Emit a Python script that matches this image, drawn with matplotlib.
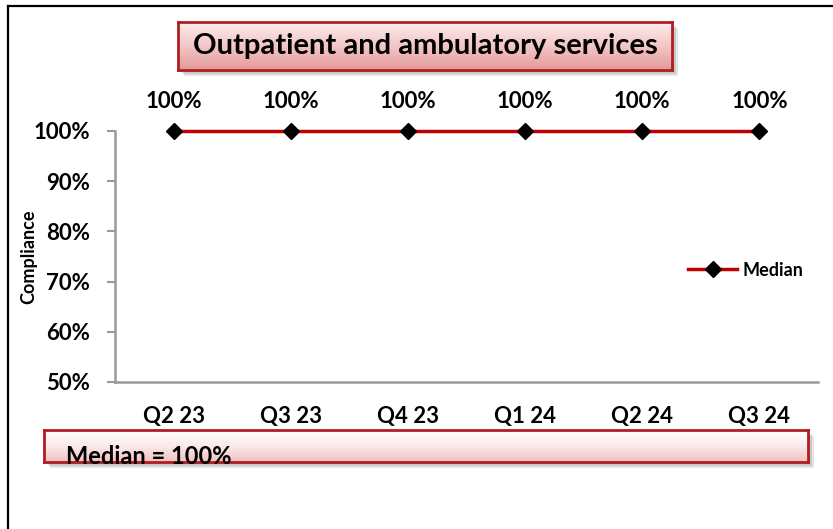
import numpy as np
import matplotlib.pyplot as plt
from matplotlib.colors import LinearSegmentedColormap
from matplotlib.patches import Rectangle
from matplotlib.lines import Line2D

# Data
quarters = ['Q2 23', 'Q3 23', 'Q4 23', 'Q1 24', 'Q2 24', 'Q3 24']
median = [100, 100, 100, 100, 100, 100]
median_value = 100

plt.rcParams['font.family'] = ['Lato', 'DejaVu Sans']
plt.rcParams['font.weight'] = 'bold'

W, H = 833, 529
fig = plt.figure(figsize=(W / 100, H / 100), dpi=100)


def px_box(x0, y0, x1, y1):
    # pixel box (top-left origin) -> figure fraction rect
    return [x0 / W, (H - y1) / H, (x1 - x0) / W, (y1 - y0) / H]


def fancy_box(x0, y0, x1, y1, colors):
    # drop shadow
    for i, a in enumerate([0.10, 0.12, 0.15]):
        d = 6 - i * 2
        r = px_box(x0 + d, y0 + d, x1 + d, y1 + d)
        fig.patches.append(Rectangle((r[0], r[1]), r[2], r[3], transform=fig.transFigure,
                                     facecolor='black', alpha=a, edgecolor='none', zorder=0))
    bax = fig.add_axes(px_box(x0, y0, x1, y1), zorder=1)
    cmap = LinearSegmentedColormap.from_list('g', colors)
    grad = np.linspace(0, 1, 100).reshape(-1, 1)
    bax.imshow(grad, aspect='auto', cmap=cmap, extent=[0, 1, 0, 1], origin='upper')
    bax.set_xticks([])
    bax.set_yticks([])
    for s in bax.spines.values():
        s.set_color('#b01e23')
        s.set_linewidth(2)
    return bax


# outer frame (top and left edges visible)
fig.add_artist(Line2D([7.5 / W, 1], [(H - 5.5) / H] * 2, color='black', lw=1.6, transform=fig.transFigure))
fig.add_artist(Line2D([7.5 / W] * 2, [0, (H - 5.5) / H], color='black', lw=1.6, transform=fig.transFigure))

# title box
fancy_box(178, 22, 672, 70, ['#fcecec', '#f3c6c6', '#e59a9a'])
fig.text(425 / W, (H - 46) / H, 'Outpatient and ambulatory services',
         ha='center', va='center', fontsize=21, fontweight='bold', zorder=5)

# main axes
ax = fig.add_axes(px_box(115, 131, 818, 382), zorder=2)
ax.patch.set_alpha(0)
x = np.arange(len(quarters))
ax.plot(x, median, color='#c00000', lw=2.5, marker='D', markersize=8,
        markerfacecolor='black', markeredgecolor='black', label='Median', clip_on=False)
for xi, v in zip(x, median):
    ax.annotate(f'{v}%', (xi, v), xytext=(0, 14), textcoords='offset points',
                ha='center', va='bottom', fontsize=16, fontweight='bold')

ax.set_xlim(-0.5, len(quarters) - 0.5)
ax.set_ylim(50, 100)
ax.set_yticks(np.arange(50, 101, 10))
ax.set_yticklabels([f'{t}%' for t in range(50, 101, 10)], fontsize=16, fontweight='bold')
ax.set_xticks(x)
ax.set_xticklabels(quarters, fontsize=16, fontweight='bold')
ax.tick_params(axis='x', length=0, pad=17)
ax.tick_params(axis='y', length=6, width=1.5, color='#999999', pad=12)
for s in ['top', 'right']:
    ax.spines[s].set_visible(False)
for s in ['left', 'bottom']:
    ax.spines[s].set_color('#999999')
    ax.spines[s].set_linewidth(1.8)
ax.set_ylabel('Compliance', fontsize=13, fontweight='bold')
ax.yaxis.set_label_coords(-0.11, 0.5)

fig.legend(loc='center left', bbox_to_anchor=(672 / W, (H - 270) / H), frameon=False,
           handlelength=2.7, handletextpad=0.3, prop={'size': 13, 'weight': 'bold'})

# bottom box
fancy_box(44, 430, 808, 462, ['#ffffff', '#fbeaea', '#efc1c1'])
fig.text(66 / W, (H - 457) / H, f'Median = {median_value}%', ha='left', va='center',
         fontsize=17, fontweight='bold', zorder=5)

fig.savefig('out.png', dpi=100)
